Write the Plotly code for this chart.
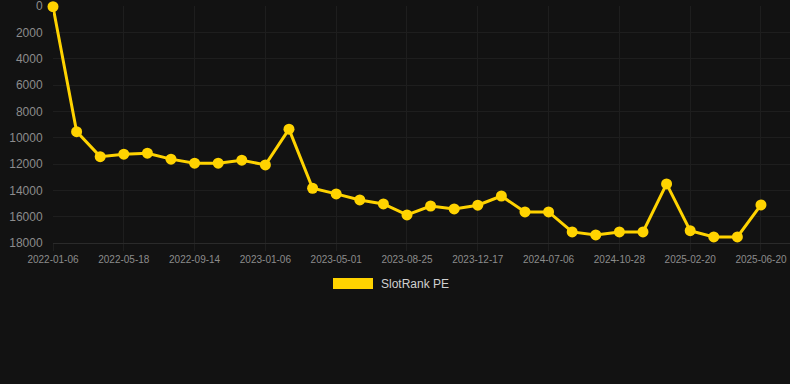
import plotly.graph_objects as go

dates = [
    "2022-01-06", "2022-02-18", "2022-04-03", "2022-05-18", "2022-06-26", "2022-08-05",
    "2022-09-14", "2022-10-24", "2022-12-01", "2023-01-06", "2023-02-12", "2023-03-22",
    "2023-05-01", "2023-06-08", "2023-07-17", "2023-08-25", "2023-10-02", "2023-11-09",
    "2023-12-17", "2024-02-22", "2024-04-29", "2024-07-06", "2024-08-13", "2024-09-20",
    "2024-10-28", "2024-12-05", "2025-01-12", "2025-02-20", "2025-03-31", "2025-05-10",
    "2025-06-20",
]
rank = [
    50, 9540, 11440, 11250, 11180, 11630, 11940, 11940, 11710, 12070, 9350, 13840,
    14270, 14730, 15030, 15870, 15190, 15410, 15130, 14430, 15640, 15640, 17160, 17390,
    17160, 17160, 13510, 17060, 17540, 17540, 15110,
]
series_name = "SlotRank PE"
tick_labels = dates[::3]
y_ticks = [0, 2000, 4000, 6000, 8000, 10000, 12000, 14000, 16000, 18000]

color = "#FFD300"
bg = "#121212"
grid = "#1e1e1e"
font_family = "Liberation Sans, Arial, Helvetica, sans-serif"

fig = go.Figure()
fig.add_trace(go.Scatter(
    x=dates, y=rank, mode="lines+markers", name=series_name,
    line=dict(color=color, width=3),
    marker=dict(color=color, size=11),
    cliponaxis=False, showlegend=False,
))

fig.update_layout(
    width=790, height=384,
    margin=dict(l=53, r=0, t=6, b=141),
    paper_bgcolor=bg, plot_bgcolor=bg,
    font=dict(family=font_family, color="#8c8c8c"),
    xaxis=dict(
        type="category", range=[0, 31.23],
        tickvals=tick_labels, ticktext=tick_labels,
        tickfont=dict(size=10, color="#8c8c8c"),
        showgrid=True, gridcolor=grid, gridwidth=1,
        ticks="outside", ticklen=7, tickcolor=grid,
        showline=True, linecolor="#2a2a2a", linewidth=1,
        zeroline=False,
    ),
    yaxis=dict(
        range=[18000, -5], tickvals=y_ticks, ticktext=[str(v) for v in y_ticks],
        tickfont=dict(size=12, color="#8c8c8c"),
        showgrid=True, gridcolor=grid, gridwidth=1,
        ticks="outside", ticklen=7, tickcolor="rgba(0,0,0,0)",
        ticklabeloverflow="allow",
        zeroline=False, showline=False,
    ),
    shapes=[dict(
        type="rect", xref="paper", yref="paper",
        x0=(333 - 53) / 737, x1=(373 - 53) / 737,
        y0=(243 - 289) / 237, y1=(243 - 278) / 237,
        fillcolor=color, line=dict(width=0),
    )],
    annotations=[dict(
        text=series_name, xref="paper", yref="paper",
        x=(379 - 53) / 737, y=(243 - 283.5) / 237,
        xanchor="left", yanchor="middle", showarrow=False,
        font=dict(size=12, color="#d0d0d0", family=font_family),
    )],
)

fig.write_html("out.html")
